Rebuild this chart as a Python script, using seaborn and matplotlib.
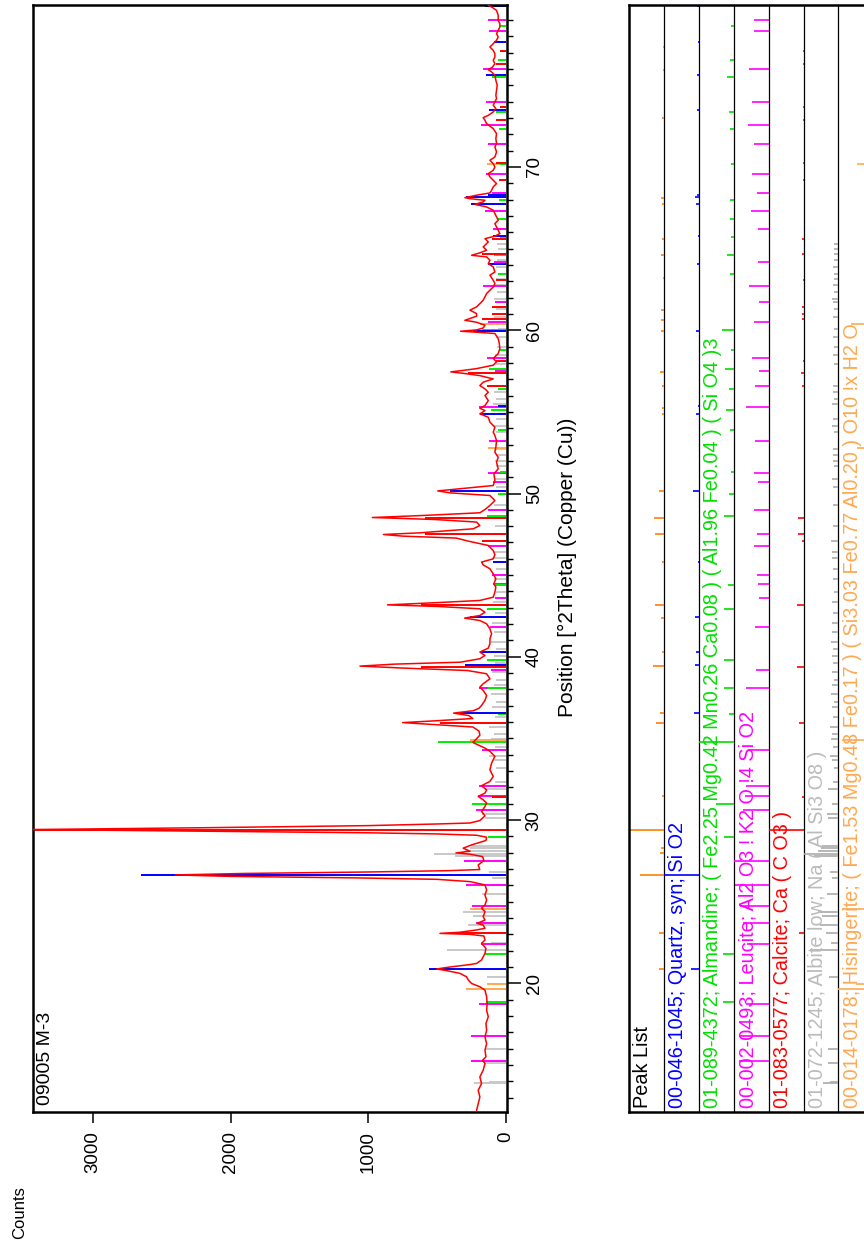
import matplotlib
matplotlib.use("Agg")
import matplotlib.pyplot as plt
import matplotlib.transforms as mtransforms
import seaborn as sns
import pandas as pd
from matplotlib.ticker import MultipleLocator

# ------------------------------------------------------------------ data
pattern_theta = [
    12.22, 12.63, 13.04, 13.45, 13.86, 14.27, 14.68, 15.09, 15.29, 15.50, 15.90, 16.31, 16.72, 17.13,
    17.54, 17.95, 18.36, 18.77, 19.18, 19.59, 19.79, 19.99, 20.20, 20.40, 20.61, 20.78, 20.88, 21.00,
    21.15, 21.22, 21.43, 21.63, 21.83, 22.14, 22.45, 22.65, 22.90, 23.00, 23.06, 23.13, 23.27, 23.37,
    23.57, 23.67, 23.88, 24.08, 24.39, 24.60, 24.80, 25.11, 25.41, 25.72, 26.03, 26.23, 26.37, 26.46,
    26.55, 26.64, 26.73, 26.82, 26.90, 26.97, 27.25, 27.52, 27.76, 27.91, 27.99, 28.09, 28.28, 28.48,
    28.75, 28.95, 29.07, 29.15, 29.22, 29.32, 29.42, 29.53, 29.66, 29.76, 29.82, 29.97, 30.26, 30.53,
    30.83, 31.04, 31.24, 31.45, 31.65, 31.85, 32.10, 32.37, 32.67, 33.08, 33.49, 33.90, 34.21, 34.41,
    34.75, 34.98, 35.20, 35.45, 35.70, 35.85, 35.97, 36.08, 36.22, 36.40, 36.55, 36.70, 36.85, 37.02,
    37.33, 37.63, 37.94, 38.14, 38.35, 38.65, 38.96, 39.16, 39.31, 39.43, 39.55, 39.67, 39.88, 40.08,
    40.29, 40.53, 40.80, 41.10, 41.41, 41.71, 42.02, 42.22, 42.37, 42.53, 42.73, 42.94, 43.08, 43.18,
    43.31, 43.45, 43.65, 43.96, 44.27, 44.47, 44.78, 45.08, 45.39, 45.63, 45.80, 46.00, 46.25, 46.51,
    46.82, 47.06, 47.27, 47.39, 47.49, 47.59, 47.84, 48.04, 48.25, 48.41, 48.53, 48.65, 48.82, 49.02,
    49.27, 49.57, 49.88, 50.04, 50.16, 50.29, 50.49, 50.80, 51.20, 51.51, 51.92, 52.22, 52.53, 52.84,
    53.24, 53.55, 53.76, 54.06, 54.37, 54.67, 54.88, 55.08, 55.22, 55.39, 55.69, 56.00, 56.20, 56.41,
    56.61, 56.82, 57.02, 57.22, 57.35, 57.45, 57.55, 57.65, 57.86, 58.06, 58.27, 58.57, 58.88, 59.19,
    59.49, 59.80, 59.88, 59.94, 60.02, 60.14, 60.31, 60.49, 60.61, 60.72, 60.86, 61.02, 61.23, 61.43,
    61.63, 61.84, 62.04, 62.25, 62.45, 62.65, 62.86, 63.06, 63.37, 63.57, 63.88, 64.08, 64.29, 64.49,
    64.59, 64.74, 64.90, 65.10, 65.41, 65.61, 65.76, 65.92, 66.12, 66.33, 66.53, 66.74, 66.94, 67.14,
    67.35, 67.55, 67.71, 67.86, 67.96, 68.06, 68.12, 68.27, 68.41, 68.57, 68.78, 68.98, 69.19, 69.39,
    69.59, 69.80, 70.00, 70.20, 70.41, 70.61, 70.92, 71.23, 71.43, 71.74, 72.04, 72.35, 72.65, 72.86,
    73.02, 73.16, 73.37, 73.57, 73.78, 73.98, 74.19, 74.39, 74.70, 75.00, 75.31, 75.61, 75.82, 75.96,
    76.12, 76.33, 76.53, 76.74, 76.94, 77.14, 77.35, 77.55, 77.76, 77.96, 78.16, 78.37, 78.57, 78.78,
    78.98, 79.29, 79.59, 79.80, 79.90,
]
pattern_counts = [
    213, 201, 189, 201, 177, 189, 165, 152, 169, 145, 152, 140, 152, 140,
    145, 128, 140, 136, 140, 152, 189, 249, 273, 286, 334, 431, 503, 407,
    260, 213, 177, 165, 152, 145, 177, 152, 160, 261, 479, 334, 213, 152,
    165, 208, 152, 165, 152, 177, 152, 140, 152, 140, 152, 261, 500, 1100,
    2000, 2400, 1900, 1000, 420, 190, 201, 160, 169, 261, 363, 261, 310, 249,
    145, 140, 213, 500, 1000, 2200, 3440, 2200, 1000, 500, 261, 189, 152, 177,
    152, 140, 165, 201, 152, 140, 177, 116, 92, 116, 104, 80, 116, 152,
    240, 213, 189, 195, 240, 520, 750, 510, 240, 270, 380, 235, 195, 177,
    152, 140, 165, 189, 165, 116, 140, 280, 750, 1060, 810, 330, 189, 152,
    189, 128, 116, 116, 104, 116, 140, 189, 300, 189, 152, 189, 490, 860,
    520, 189, 92, 80, 73, 87, 73, 92, 116, 165, 177, 92, 80, 92,
    128, 261, 360, 750, 890, 630, 237, 189, 213, 520, 970, 615, 189, 152,
    116, 80, 116, 407, 495, 334, 92, 80, 87, 56, 68, 56, 80, 73,
    68, 80, 92, 80, 116, 128, 189, 152, 189, 152, 128, 152, 128, 152,
    189, 165, 92, 189, 300, 400, 300, 213, 92, 68, 92, 56, 44, 48,
    56, 80, 213, 329, 213, 165, 152, 213, 298, 261, 213, 213, 261, 213,
    189, 165, 152, 140, 116, 92, 80, 92, 116, 80, 92, 128, 116, 140,
    249, 189, 140, 165, 128, 152, 80, 44, 56, 68, 80, 56, 68, 80,
    92, 140, 225, 165, 152, 261, 298, 213, 116, 104, 92, 68, 92, 116,
    128, 92, 80, 92, 116, 80, 68, 80, 68, 73, 68, 92, 140, 152,
    165, 128, 92, 73, 92, 80, 68, 73, 68, 63, 73, 80, 104, 128,
    97, 80, 92, 80, 80, 92, 116, 92, 68, 56, 68, 56, 44, 44,
    56, 56, 68, 104, 128,
]

# reference sticks (2theta, counts)
quartz_sticks = [(20.86, 560), (26.64, 2650), (36.54, 330), (39.47, 298), (40.29, 189), (42.45, 261),
                 (45.79, 92), (50.14, 407), (54.87, 189), (55.33, 60), (59.96, 240), (64.03, 128),
                 (65.79, 92), (67.74, 250), (68.14, 290), (68.31, 130), (73.47, 121), (75.66, 145),
                 (77.67, 87), (79.88, 152)]
almandine_sticks = [(18.84, 145), (21.79, 150), (28.95, 130), (30.99, 245), (34.77, 491), (36.52, 60),
                    (38.10, 130), (39.83, 140), (42.93, 135), (44.41, 87), (48.63, 140), (49.98, 60),
                    (51.31, 40), (53.88, 55), (55.14, 110), (56.38, 60), (57.60, 120), (58.81, 40),
                    (60.00, 170), (63.47, 55), (64.61, 90), (65.70, 40), (66.84, 56), (67.97, 50),
                    (70.20, 40), (72.32, 50), (73.39, 70), (75.51, 100), (76.57, 55), (78.66, 40)]
leucite_sticks = [(15.25, 256), (16.75, 256), (18.71, 194), (22.40, 184), (23.67, 218), (24.72, 249),
                  (26.03, 293), (27.52, 302), (30.60, 218), (31.50, 200), (32.10, 194), (34.27, 177),
                  (38.10, 194), (39.20, 110), (41.80, 116), (43.60, 80), (44.47, 92), (45.00, 104),
                  (46.80, 128), (47.55, 104), (49.00, 130), (50.69, 92), (51.24, 128), (53.20, 121),
                  (55.30, 194), (56.60, 116), (57.50, 80), (58.30, 140), (60.50, 130), (61.70, 80),
                  (62.70, 169), (64.20, 90), (66.20, 92), (67.30, 152), (68.40, 104), (69.55, 145),
                  (71.40, 128), (72.60, 181), (73.98, 145), (76.00, 169), (78.30, 123), (79.00, 128)]
calcite_sticks = [(23.06, 400), (29.41, 3440), (31.44, 100), (35.97, 480), (39.40, 620), (43.15, 620),
                  (47.12, 170), (47.49, 585), (48.51, 585), (56.57, 140), (57.41, 275), (58.10, 70),
                  (60.68, 170), (61.00, 100), (61.40, 100), (63.05, 70), (64.68, 170), (65.60, 100),
                  (69.20, 50), (70.24, 70), (72.90, 70), (73.70, 45), (76.30, 70), (77.10, 45)]
albite_sticks = [(13.87, 232), (13.98, 120), (15.15, 150), (15.96, 150), (20.40, 140), (22.04, 430),
                 (22.50, 110), (23.10, 190), (23.57, 273), (24.12, 240), (24.35, 310), (25.45, 177),
                 (26.45, 100), (26.80, 124), (27.78, 370), (27.95, 523), (28.12, 300), (28.30, 262),
                 (28.42, 250), (30.15, 150), (30.35, 177), (31.00, 90), (31.90, 150), (32.35, 80),
                 (33.20, 70), (33.65, 90), (33.95, 120), (34.45, 80), (34.98, 110), (35.29, 90),
                 (35.70, 120), (36.31, 80), (36.92, 100), (37.23, 70), (37.74, 110), (38.25, 90),
                 (38.55, 70), (39.04, 100), (39.65, 80), (40.06, 90), (40.47, 75), (40.88, 110),
                 (41.49, 90), (42.10, 100), (42.71, 80), (43.33, 95), (43.94, 70), (44.76, 85),
                 (45.37, 75), (46.08, 100), (46.39, 90), (47.12, 110), (48.04, 80), (49.27, 85),
                 (50.39, 75), (50.90, 90), (51.71, 70), (52.02, 80), (52.33, 75), (52.73, 85),
                 (53.76, 70), (54.16, 90), (54.57, 75), (55.49, 95), (55.80, 70), (56.20, 85),
                 (56.61, 75), (57.96, 70), (58.47, 80), (58.98, 65), (59.59, 75), (60.10, 60),
                 (60.82, 85), (61.33, 70), (61.74, 75), (61.94, 90), (62.35, 65), (62.76, 80),
                 (63.16, 70), (63.47, 60), (63.88, 75), (64.29, 65), (64.70, 70), (65.00, 60),
                 (65.31, 65)]
hisingerite_sticks = [(19.66, 290), (19.99, 140), (24.53, 260), (34.90, 260), (52.80, 133),
                      (60.40, 189), (70.20, 135)]
peaklist_sticks = [(20.86, 500), (23.06, 480), (26.64, 2400), (27.99, 363), (28.28, 310), (29.42, 3440),
                   (31.45, 200), (35.97, 750), (36.55, 380), (39.43, 1060), (40.29, 189), (42.37, 300),
                   (43.18, 860), (45.80, 177), (47.49, 890), (48.53, 970), (50.16, 495), (54.88, 189),
                   (55.22, 189), (56.61, 189), (57.45, 400), (59.94, 329), (60.61, 298), (61.23, 261),
                   (63.20, 110), (64.59, 249), (65.61, 152), (67.71, 225), (68.12, 298), (73.02, 165),
                   (75.96, 128), (77.35, 116)]

row_labels = [
    "Peak List",
    "00-046-1045; Quartz, syn; Si O2",
    "01-089-4372; Almandine; ( Fe2.25 Mg0.42 Mn0.26 Ca0.08 ) ( Al1.96 Fe0.04 ) ( Si O4 )3",
    "00-002-0493; Leucite; Al2 O3 ! K2 O !4 Si O2",
    "01-083-0577; Calcite; Ca ( C O3 )",
    "01-072-1245; Albite low; Na ( Al Si3 O8 )",
    "00-014-0178; Hisingerite; ( Fe1.53 Mg0.48 Fe0.17 ) ( Si3.03 Fe0.77 Al0.20 ) O10 !x H2 O",
]
count_ticks = [0, 1000, 2000, 3000]
sample_name = "09005 M-3"

# ------------------------------------------------------------------ style
sns.set_theme(style="ticks")
plt.rcParams["font.family"] = ["Liberation Sans", "DejaVu Sans"]
plt.rcParams["axes.edgecolor"] = "black"
plt.rcParams["xtick.color"] = "black"
plt.rcParams["ytick.color"] = "black"
plt.rcParams["text.color"] = "black"

W, H = 864, 1251
fig = plt.figure(figsize=(W / 100, H / 100), dpi=100)
fig.patch.set_facecolor("white")


def rect(x0, y0, x1, y1):
    return [x0 / W, 1 - y1 / H, (x1 - x0) / W, (y1 - y0) / H]


ROW_W = 34.9
N_ROWS = 7
ax = fig.add_axes(rect(33, 5, 507, 1112))
ax2 = fig.add_axes(rect(629, 5, 629 + ROW_W * N_ROWS, 1112))

YLIM = (12.12, 79.92)

# ------------------------------------------------------------------ pattern panel
phases = [
    (albite_sticks, "#C8C8C8"),
    (hisingerite_sticks, "#FFA850"),
    (leucite_sticks, "#FF00FF"),
    (almandine_sticks, "#00EE00"),
    (calcite_sticks, "#FF0000"),
    (quartz_sticks, "#0000FF"),
]
for sticks, col in phases:
    pos = [p for p, _ in sticks]
    cnt = [c for _, c in sticks]
    ax.hlines(pos, 0, cnt, colors=col, lw=1.4, zorder=2)

df = pd.DataFrame({"theta": pattern_theta, "counts": pattern_counts})
sns.lineplot(data=df, x="counts", y="theta", sort=False, estimator=None,
             color="#FF0000", linewidth=1.1, ax=ax, zorder=3)

ax.set_xlim(3435, -8)
ax.set_ylim(*YLIM)
ax.set_xlabel("")
ax.set_ylabel("")
ax.set_xticks(count_ticks)
ax.set_xticklabels([str(t) for t in count_ticks])
ax.yaxis.set_major_locator(MultipleLocator(10))
ax.yaxis.set_minor_locator(MultipleLocator(1))
ax.yaxis.tick_right()
ax.tick_params(axis="y", which="major", right=True, left=False, labelright=True, labelleft=False,
               length=10, width=1.1, direction="out", pad=3.5, labelsize=13.5, labelrotation=90)
ax.tick_params(axis="y", which="minor", right=True, left=False, length=4.5, width=1.0, direction="out")
ax.tick_params(axis="x", which="major", bottom=True, top=False, length=8, width=1.1,
               direction="out", pad=6, labelsize=13.5, labelrotation=90)
for lab in ax.get_yticklabels():
    lab.set_va("center")
for sp in ax.spines.values():
    sp.set_visible(True)
    sp.set_linewidth(1.8)
    sp.set_color("black")
ax.grid(False)

ax.text(12 / 474, 7 / 1107, sample_name, transform=ax.transAxes, rotation=90,
        ha="center", va="bottom", fontsize=14)

fig.text(19.5 / W, 1 - 1213 / H, "Counts", rotation=90, ha="center", va="center", fontsize=12)
fig.text(567 / W, 1 - 567 / H, "Position [°2Theta] (Copper (Cu))", rotation=90,
         ha="center", va="center", fontsize=15)

# ------------------------------------------------------------------ peak list panel
ax2.set_xlim(0, N_ROWS)
ax2.set_ylim(*YLIM)
ax2.set_xticks([])
ax2.set_yticks([])
for name, sp in ax2.spines.items():
    sp.set_color("black")
    sp.set_linewidth(1.8)
ax2.spines["right"].set_visible(False)
ax2.vlines(range(1, N_ROWS), YLIM[0], YLIM[1], colors="black", lw=0.9)

row_sets = [
    (peaklist_sticks, "#FF8000", "black"),
    (quartz_sticks, "#0000FF", "#0000FF"),
    (almandine_sticks, "#00DD00", "#00E000"),
    (leucite_sticks, "#FF00FF", "#FF00FF"),
    (calcite_sticks, "#FF0000", "#FF0000"),
    (albite_sticks, "#AAAAAA", "#BBBBBB"),
    (hisingerite_sticks, "#FFA850", "#FFA850"),
]
trans = mtransforms.blended_transform_factory(ax2.transData, ax2.transAxes)
trans = mtransforms.offset_copy(trans, fig=fig, x=-3.5, y=0, units="dots")
for i, (sticks, tick_col, text_col) in enumerate(row_sets):
    pos = [p for p, _ in sticks]
    cnt = [c for _, c in sticks]
    mx = max(cnt)
    left = [i + 1 - c / mx for c in cnt]
    ax2.hlines(pos, left, [i + 1] * len(pos), colors=tick_col, lw=1.2, zorder=2)
    ax2.text(i + 0.5, 4 / 1107, row_labels[i], transform=trans, rotation=90,
             ha="center", va="bottom", color=text_col, fontsize=14.3, zorder=3)

fig.savefig("out.png", dpi=100, facecolor="white")
